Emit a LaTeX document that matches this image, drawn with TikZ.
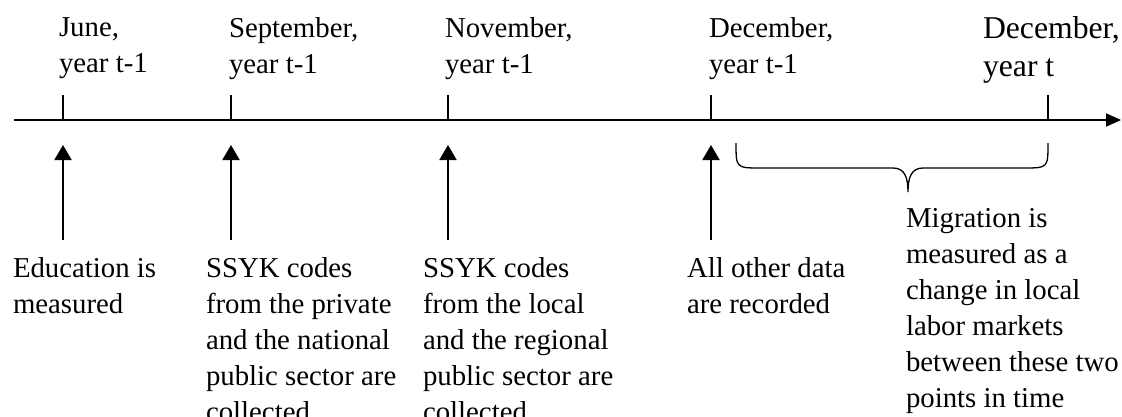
\documentclass[tikz,border=0pt]{standalone}
\usepackage{fontspec}
\setmainfont{Liberation Serif}
\usetikzlibrary{arrows.meta}

\begin{document}
\begin{tikzpicture}[x=1pt,y=-1pt,line width=2pt,>={Triangle[length=15pt,width=17pt]},
  lbl/.style={anchor=north west,inner sep=0pt,align=left,font=\fontsize{28.8}{36}\selectfont}]
  \useasboundingbox (0,0) rectangle (1122,416);
  % time axis
  \coordinate (ax0) at (14,120);
  \coordinate (ax1) at (1121,120);
  \draw[-{Triangle[length=15pt,width=13pt]}] (ax0) -- (ax1);
  % ticks and dates
  \foreach \i/\x/\lx/\m/\y in {1/63/58/June/t-1, 2/231/228/September/t-1, 3/448/444/November/t-1, 4/711/708/December/t-1}{
    \coordinate (tk\i) at (\x,120); \coordinate (tt\i) at (\x,95);
    \draw[line width=1.3pt] (tt\i) -- (tk\i);
    \node[lbl] (date\i) at (\lx,16.5) {\m,\\year \y};}
  \coordinate (tk5) at (1048,120); \coordinate (tt5) at (1048,95);
  \draw[line width=1.3pt] (tt5) -- (tk5);
  \node[lbl,font=\fontsize{31.7}{38}\selectfont] (date5) at (982,15.4) {December,\\year t};
  % events below the axis
  \foreach \i/\x in {1/63,2/231,3/448,4/711}{
    \coordinate (ev\i) at (\x,240); \coordinate (hd\i) at (\x,145);
    \draw[->] (ev\i) -- (hd\i);}
  \node[lbl] (evt1) at (12,256.5) {Education is\\measured};
  \node[lbl] (evt2) at (205,256.5) {SSYK codes\\from the private\\and the national\\public sector are\\collected};
  \node[lbl] (evt3) at (422,256.5) {SSYK codes\\from the local\\and the regional\\public sector are\\collected};
  \node[lbl] (evt4) at (686,256.5) {All other data\\are recorded};
  % brace: migration window
  \coordinate (br0) at (736,143); \coordinate (br1) at (1048,143); \coordinate (brt) at (908,192);
  \draw[line width=1.3pt] (br0) .. controls (736,168) and (736,168) .. (761,168) -- (893,168)
    .. controls (905,168) and (908,178) .. (brt) .. controls (908,178) and (911,168) .. (923,168)
    -- (1023,168) .. controls (1048,168) and (1048,168) .. (br1);
  \node[lbl] (mig) at (905,207.5) {Migration is\\measured as a\\change in local\\labor markets\\between these two\\points in time};
\end{tikzpicture}
\end{document}
